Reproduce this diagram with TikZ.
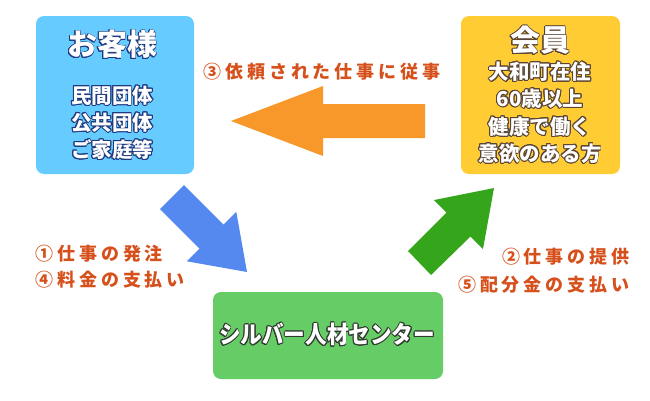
\documentclass[tikz,border=0pt]{standalone}
\usepackage{fontspec}
\usepackage[copies]{contour}
\newfontfamily\jp{Noto Sans CJK JP}
\newfontfamily\jplab[LetterSpace=22]{Noto Sans CJK JP}
\definecolor{custblue}{HTML}{66CCFF}
\definecolor{memyellow}{HTML}{FFCC33}
\definecolor{centgreen}{HTML}{66CC66}
\definecolor{arrorange}{HTML}{F8982A}
\definecolor{arrblue}{HTML}{5589EF}
\definecolor{arrgreen}{HTML}{35A61B}
\definecolor{labred}{HTML}{D6501C}
\definecolor{navyline}{HTML}{1F3A80}
\definecolor{brownline}{HTML}{5A4434}
\definecolor{grayline}{HTML}{2F3A2F}
\contourlength{0.9pt}
\tikzset{
  boxst/.style={rounded corners=8pt, inner sep=0pt},
  title/.style={text=white, font=\jp\bfseries\fontsize{30}{32}\selectfont, inner sep=0pt},
  sub/.style={text=white, font=\jp\bfseries\fontsize{20.5}{22}\selectfont, inner sep=0pt},
  lab/.style={text=labred, font=\jplab\bfseries\fontsize{18}{20}\selectfont, inner sep=0pt},
}
\begin{document}
\begin{tikzpicture}[x=1pt,y=-1pt]
\useasboundingbox (0,0) rectangle (650,400);
% boxes
\node[boxst, fill=custblue, minimum width=158pt, minimum height=158pt] (cust) at (115,95) {};
\node[boxst, fill=memyellow, minimum width=159pt, minimum height=158pt] (mem) at (540.5,95) {};
\node[boxst, fill=centgreen, minimum width=230pt, minimum height=87pt] (cent) at (328,335.5) {};
% customer text
\node[title] (custT) at (112,45) {\contour{navyline}{お客様}};
\node[sub] (custA) at (112,96) {\contour{navyline}{民間団体}};
\node[sub] (custB) at (112,123) {\contour{navyline}{公共団体}};
\node[sub] (custC) at (112,150) {\contour{navyline}{ご家庭等}};
% member text
\node[title] (memT) at (540,41) {\contour{brownline}{会員}};
\node[sub] (memA) at (540,72) {\contour{brownline}{大和町在住}};
\node[sub] (memB) at (540,99) {\contour{brownline}{60歳以上}};
\node[sub] (memC) at (540,127) {\contour{brownline}{健康で働く}};
\node[sub] (memD) at (540,154) {\contour{brownline}{意欲のある方}};
% center text
\node[text=white, font=\jp\bfseries\fontsize{24}{26}\selectfont, inner sep=0pt] (centT) at (327,335)
  {\scalebox{0.9}[1]{\contour{grayline}{シルバー人材センター}}};
% arrows
\fill[arrorange] (425,104) -- (323,104) -- (323,86) -- (231,121) -- (323,156) -- (323,138) -- (425,138) -- cycle;
\fill[arrblue] (184,185) -- (223.6,224.6) -- (236.3,211.9) -- (247,272) -- (186.9,261.3) -- (199.6,248.6) -- (160,209) -- cycle;
\fill[arrgreen] (408,251) -- (446.5,212.5) -- (434,200) -- (494,188) -- (483,249) -- (470.5,236.5) -- (431,275) -- cycle;
% labels
\node[lab, anchor=west] (l3) at (203,72) {③依頼された仕事に従事};
\node[lab, anchor=west] (l1) at (35,254) {①仕事の発注};
\node[lab, anchor=west] (l4) at (35,280) {④料金の支払い};
\node[lab, anchor=east] (l2) at (630,257) {②仕事の提供};
\node[lab, anchor=east] (l5) at (630,285) {⑤配分金の支払い};
\end{tikzpicture}
\end{document}
